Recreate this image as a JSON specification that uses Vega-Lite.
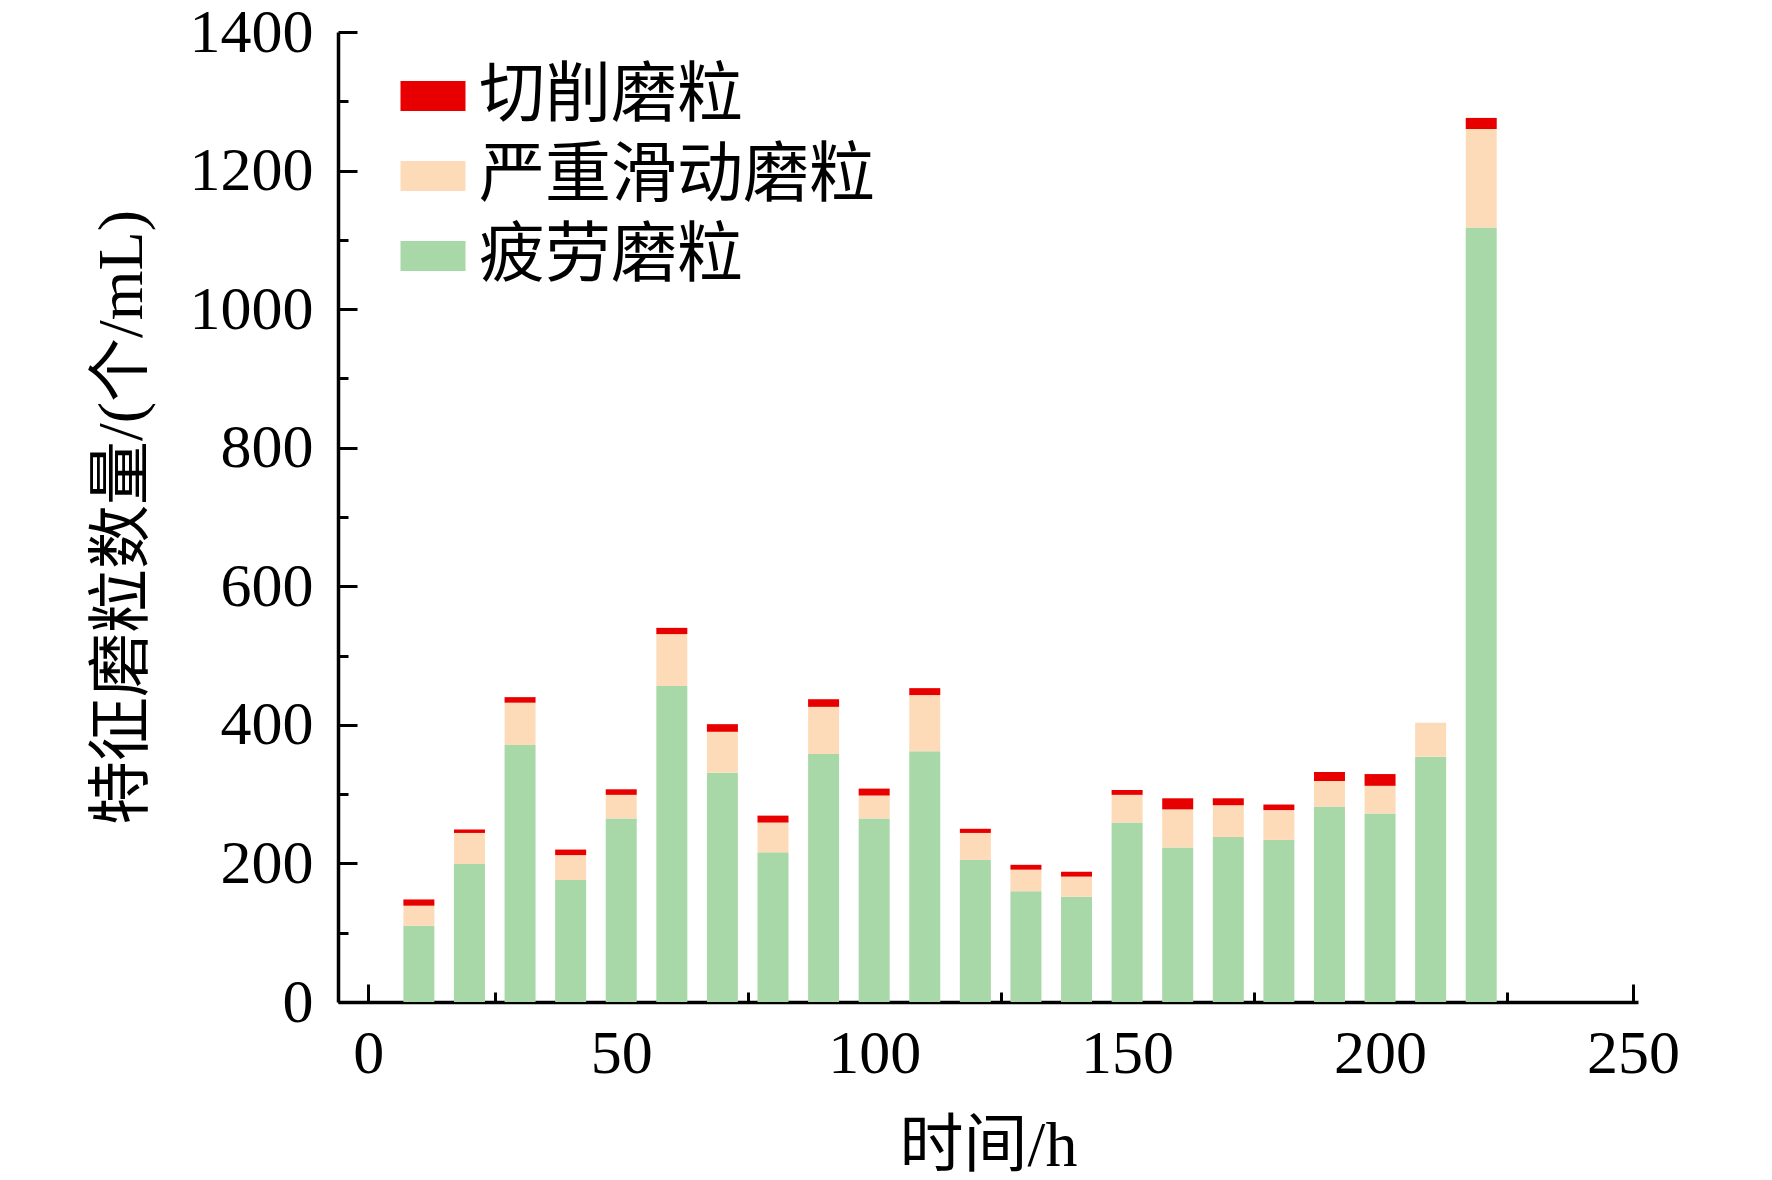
{
  "$schema": "https://vega.github.io/schema/vega-lite/v6.json",
  "width": 1300,
  "height": 970,
  "autosize": {"type": "none"},
  "padding": {"left": 338, "top": 32, "right": 134, "bottom": 178},
  "background": "white",
  "config": {
    "view": {"stroke": null},
    "font": "Liberation Serif, Noto Sans CJK SC",
    "axis": {
      "domainColor": "black",
      "domainWidth": 3.5,
      "tickColor": "black",
      "tickWidth": 3,
      "labelColor": "black",
      "titleColor": "black",
      "labelFont": "Liberation Serif",
      "labelFontSize": 62,
      "titleFont": "Liberation Serif, Noto Sans CJK SC",
      "titleFontSize": 64,
      "titleFontWeight": "normal",
      "grid": false,
      "format": "d"
    }
  },
  "data": {
    "values": [
      {"t": 10, "type": "疲劳磨粒", "n": 110},
      {"t": 10, "type": "严重滑动磨粒", "n": 29},
      {"t": 10, "type": "切削磨粒", "n": 9},
      {"t": 20, "type": "疲劳磨粒", "n": 199},
      {"t": 20, "type": "严重滑动磨粒", "n": 45},
      {"t": 20, "type": "切削磨粒", "n": 5},
      {"t": 30, "type": "疲劳磨粒", "n": 371},
      {"t": 30, "type": "严重滑动磨粒", "n": 61},
      {"t": 30, "type": "切削磨粒", "n": 8},
      {"t": 40, "type": "疲劳磨粒", "n": 176},
      {"t": 40, "type": "严重滑动磨粒", "n": 36},
      {"t": 40, "type": "切削磨粒", "n": 8},
      {"t": 50, "type": "疲劳磨粒", "n": 265},
      {"t": 50, "type": "严重滑动磨粒", "n": 34},
      {"t": 50, "type": "切削磨粒", "n": 8},
      {"t": 60, "type": "疲劳磨粒", "n": 456},
      {"t": 60, "type": "严重滑动磨粒", "n": 75},
      {"t": 60, "type": "切削磨粒", "n": 9},
      {"t": 70, "type": "疲劳磨粒", "n": 331},
      {"t": 70, "type": "严重滑动磨粒", "n": 59},
      {"t": 70, "type": "切削磨粒", "n": 11},
      {"t": 80, "type": "疲劳磨粒", "n": 216},
      {"t": 80, "type": "严重滑动磨粒", "n": 43},
      {"t": 80, "type": "切削磨粒", "n": 10},
      {"t": 90, "type": "疲劳磨粒", "n": 358},
      {"t": 90, "type": "严重滑动磨粒", "n": 68},
      {"t": 90, "type": "切削磨粒", "n": 11},
      {"t": 100, "type": "疲劳磨粒", "n": 265},
      {"t": 100, "type": "严重滑动磨粒", "n": 33},
      {"t": 100, "type": "切削磨粒", "n": 10},
      {"t": 110, "type": "疲劳磨粒", "n": 362},
      {"t": 110, "type": "严重滑动磨粒", "n": 81},
      {"t": 110, "type": "切削磨粒", "n": 10},
      {"t": 120, "type": "疲劳磨粒", "n": 205},
      {"t": 120, "type": "严重滑动磨粒", "n": 39},
      {"t": 120, "type": "切削磨粒", "n": 6},
      {"t": 130, "type": "疲劳磨粒", "n": 160},
      {"t": 130, "type": "严重滑动磨粒", "n": 31},
      {"t": 130, "type": "切削磨粒", "n": 7},
      {"t": 140, "type": "疲劳磨粒", "n": 152},
      {"t": 140, "type": "严重滑动磨粒", "n": 29},
      {"t": 140, "type": "切削磨粒", "n": 7},
      {"t": 150, "type": "疲劳磨粒", "n": 259},
      {"t": 150, "type": "严重滑动磨粒", "n": 40},
      {"t": 150, "type": "切削磨粒", "n": 7},
      {"t": 160, "type": "疲劳磨粒", "n": 223},
      {"t": 160, "type": "严重滑动磨粒", "n": 55},
      {"t": 160, "type": "切削磨粒", "n": 16},
      {"t": 170, "type": "疲劳磨粒", "n": 238},
      {"t": 170, "type": "严重滑动磨粒", "n": 46},
      {"t": 170, "type": "切削磨粒", "n": 10},
      {"t": 180, "type": "疲劳磨粒", "n": 234},
      {"t": 180, "type": "严重滑动磨粒", "n": 43},
      {"t": 180, "type": "切削磨粒", "n": 8},
      {"t": 190, "type": "疲劳磨粒", "n": 282},
      {"t": 190, "type": "严重滑动磨粒", "n": 37},
      {"t": 190, "type": "切削磨粒", "n": 13},
      {"t": 200, "type": "疲劳磨粒", "n": 272},
      {"t": 200, "type": "严重滑动磨粒", "n": 40},
      {"t": 200, "type": "切削磨粒", "n": 17},
      {"t": 210, "type": "疲劳磨粒", "n": 354},
      {"t": 210, "type": "严重滑动磨粒", "n": 49},
      {"t": 210, "type": "切削磨粒", "n": 0},
      {"t": 220, "type": "疲劳磨粒", "n": 1118},
      {"t": 220, "type": "严重滑动磨粒", "n": 142},
      {"t": 220, "type": "切削磨粒", "n": 16}
    ]
  },
  "transform": [
    {"calculate": "indexof(['疲劳磨粒', '严重滑动磨粒', '切削磨粒'], datum.type)", "as": "stackOrder"}
  ],
  "mark": {"type": "bar", "width": 31},
  "encoding": {
    "x": {
      "field": "t",
      "type": "quantitative",
      "title": "时间/h",
      "scale": {"domain": [-5, 250], "nice": false, "zero": false},
      "axis": {
        "values": [0, 25, 50, 75, 100, 125, 150, 175, 200, 225, 250],
        "labelExpr": "datum.value % 50 === 0 ? datum.label : ''",
        "tickSize": {"condition": {"test": "datum.value % 50 === 0", "value": -18}, "value": -10},
        "labelPadding": 39,
        "titlePadding": 30
      }
    },
    "y": {
      "field": "n",
      "type": "quantitative",
      "stack": "zero",
      "title": "特征磨粒数量/(个/mL)",
      "scale": {"domain": [0, 1400], "nice": false},
      "axis": {
        "values": [0, 100, 200, 300, 400, 500, 600, 700, 800, 900, 1000, 1100, 1200, 1300, 1400],
        "labelExpr": "datum.value % 200 === 0 ? datum.label : ''",
        "tickSize": {"condition": {"test": "datum.value % 200 === 0", "value": -19}, "value": -10},
        "labelPadding": 44,
        "titlePadding": 35
      }
    },
    "color": {
      "field": "type",
      "type": "nominal",
      "scale": {
        "domain": ["切削磨粒", "严重滑动磨粒", "疲劳磨粒"],
        "range": ["#e80000", "#fddbb8", "#a8d8a8"]
      },
      "legend": {
        "title": null,
        "orient": "none",
        "legendX": 62,
        "legendY": 31,
        "symbolType": "M-1,-0.46H1V0.46H-1Z",
        "symbolSize": 4225,
        "symbolStrokeWidth": 0,
        "symbolOpacity": 1,
        "labelFont": "Noto Sans CJK SC",
        "labelFontSize": 66,
        "labelColor": "black",
        "labelOffset": 13,
        "labelLimit": 500,
        "rowPadding": 14
      }
    },
    "order": {"field": "stackOrder", "type": "quantitative", "sort": "ascending"}
  }
}
